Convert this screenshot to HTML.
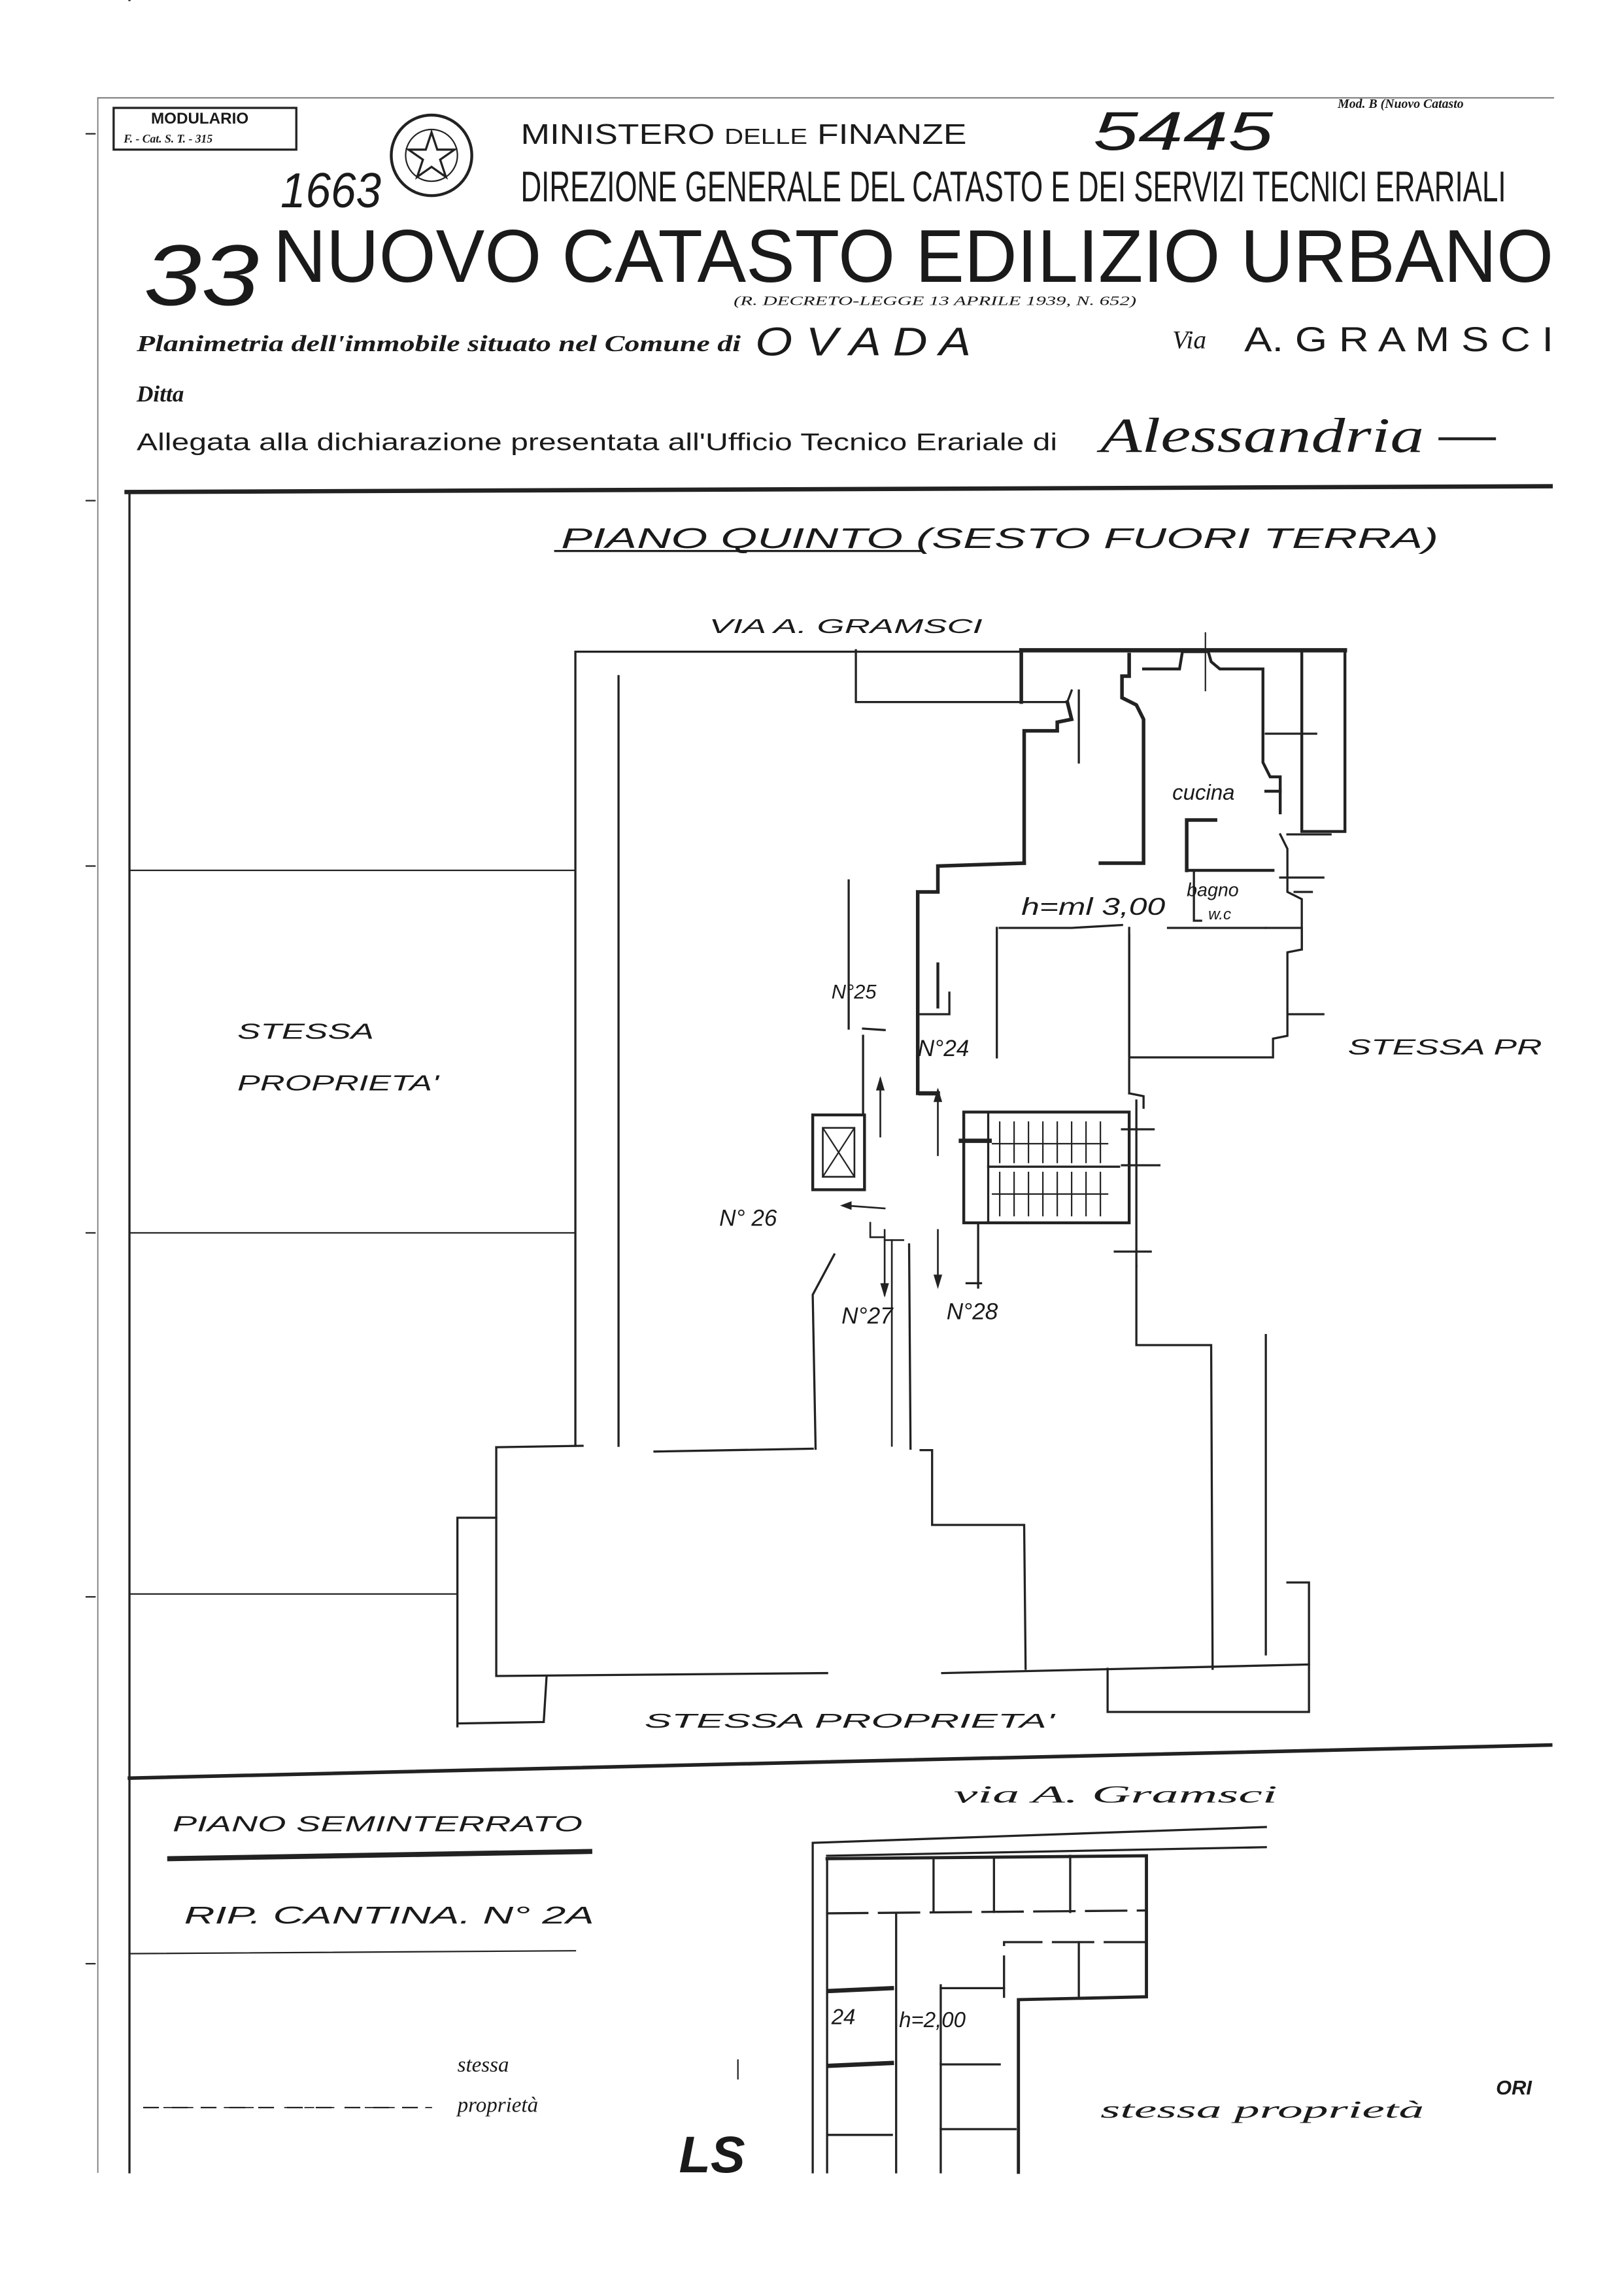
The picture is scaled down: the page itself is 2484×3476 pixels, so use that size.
<!DOCTYPE html>
<html><head><meta charset="utf-8"><style>
html,body{margin:0;padding:0;background:#fff}
svg{display:block}
text{font-family:"Liberation Sans",sans-serif;fill:#1a1a1a}
.s{font-family:"Liberation Serif",serif;font-style:italic}
.h{font-family:"Liberation Sans",sans-serif;font-style:italic}
</style></head><body>
<svg width="2484" height="3476" viewBox="0 0 1129 1580" preserveAspectRatio="none" xmlns="http://www.w3.org/2000/svg">
<rect width="1129" height="1580" fill="#fff"/>
<g stroke="#222" fill="none" stroke-linecap="square">
<!-- frame -->
<line x1="68" y1="68" x2="1080" y2="68" stroke-width="0.8" stroke="#666"/>
<line x1="68" y1="68" x2="68" y2="1510" stroke-width="0.8" stroke="#777"/>
<line x1="60" y1="93" x2="66" y2="93" stroke-width="1"/><line x1="60" y1="348" x2="66" y2="348" stroke-width="1"/>
<line x1="60" y1="602" x2="66" y2="602" stroke-width="1"/><line x1="60" y1="857" x2="66" y2="857" stroke-width="1"/>
<line x1="60" y1="1110" x2="66" y2="1110" stroke-width="1"/><line x1="60" y1="1365" x2="66" y2="1365" stroke-width="1"/>
<rect x="79" y="75" width="127" height="29" stroke-width="1.5"/>
<circle cx="300" cy="108" r="28" stroke-width="2"/>
<circle cx="300" cy="108" r="18" stroke-width="1"/>
<polygon points="300,92 304,104 316,104 306,111 310,123 300,116 290,123 294,111 284,104 296,104" stroke-width="1.5"/>
<line x1="88" y1="342" x2="1078" y2="338" stroke-width="3"/>
<line x1="90" y1="342" x2="90" y2="1510" stroke-width="1.5"/>
<line x1="90" y1="605" x2="400" y2="605" stroke-width="1"/>
<line x1="90" y1="857" x2="400" y2="857" stroke-width="1"/>
<line x1="90" y1="1108" x2="318" y2="1108" stroke-width="1"/>
<line x1="90" y1="1236" x2="1078" y2="1213" stroke-width="2.5"/>
<line x1="90" y1="1358" x2="400" y2="1356" stroke-width="1"/>
<line x1="100" y1="1465" x2="300" y2="1465" stroke-width="0.8" stroke-dasharray="6 8"/>
<!-- underlines -->
<line x1="386" y1="383" x2="640" y2="383" stroke-width="1.5"/>
<line x1="118" y1="1292" x2="410" y2="1287" stroke-width="3.5"/>

<!-- main plan -->
<g stroke-width="1.5">
<polyline points="400,1005 400,453 710,453"/>
<line x1="430" y1="470" x2="430" y2="1005"/>
<line x1="345" y1="1006" x2="405" y2="1005"/>
<line x1="455" y1="1009" x2="565" y2="1007"/>
<polyline points="580,872 565,900 567,1007"/>
<polyline points="345,1006 345,1165 575,1163"/>
<polyline points="318,1200 318,1055 345,1055"/>
<polyline points="318,1198 378,1197 380,1165"/>
<line x1="655" y1="1163" x2="910" y2="1157"/>
<line x1="632" y1="865" x2="633" y2="1007"/>
<polyline points="640,1008 648,1008 648,1060 712,1060 713,1160"/>
<polyline points="790,880 790,935 842,935 843,1160"/>
<polyline points="770,1160 770,1190 910,1190 910,1100 895,1100"/>
<line x1="880" y1="928" x2="880" y2="1150"/>
<line x1="590" y1="612" x2="590" y2="715"/>
<line x1="638" y1="640" x2="638" y2="745"/>
<polyline points="600,715 615,716"/>
<line x1="90" y1="0" x2="90" y2="0"/>
<!-- top-right region -->
<line x1="710" y1="452" x2="935" y2="452" stroke-width="3"/>
<polyline points="595,452 595,488 742,488 745,480"/>
<line x1="710" y1="452" x2="710" y2="488" stroke-width="2.5"/>
<polyline points="742,488 745,500 735,502 735,508 712,508 712,600" stroke-width="2.5"/>
<polyline points="712,600 652,602 652,620 638,620 638,760" stroke-width="2.5"/>
<line x1="640" y1="760" x2="652" y2="760" stroke-width="3"/>
<line x1="652" y1="700" x2="652" y2="670" stroke-width="2"/>
<polyline points="640,705 660,705 660,690" stroke-width="1.5"/>
<line x1="750" y1="480" x2="750" y2="530"/>
<polyline points="785,455 785,470 780,470 780,485 790,490 795,500 795,600 765,600" stroke-width="2.5"/>
<polyline points="795,465 820,465 822,453 840,453 842,460 848,465 878,465 878,530 883,540 890,540 890,565" stroke-width="2"/>
<line x1="838" y1="440" x2="838" y2="480" stroke-width="1"/>
<polyline points="905,453 905,578 935,578 935,453" stroke-width="2"/>
<line x1="880" y1="510" x2="915" y2="510"/>
<polyline points="890,580 895,590 895,620 905,625 905,660 895,662 895,720 885,722 885,735 785,735 785,650"/>
<polyline points="825,605 825,570 845,570" stroke-width="2.5"/>
<line x1="825" y1="605" x2="885" y2="605" stroke-width="2"/>
<line x1="880" y1="550" x2="890" y2="550" stroke-width="2"/>
<line x1="895" y1="580" x2="925" y2="580"/>
<line x1="890" y1="610" x2="920" y2="610"/>
<polyline points="830,605 830,640 835,640"/>
<line x1="812" y1="645" x2="880" y2="645" stroke-width="1.5"/>
<polyline points="880,645 905,645 905,660"/>
<line x1="895" y1="705" x2="920" y2="705"/>
<line x1="900" y1="620" x2="912" y2="620"/>
<polyline points="695,645 745,645 780,643" stroke-width="1.5"/>
<line x1="693" y1="645" x2="693" y2="735" stroke-width="1.5"/>
<line x1="785" y1="645" x2="785" y2="760" stroke-width="1.5"/>
<polyline points="785,760 795,762 795,770"/>
<line x1="780" y1="785" x2="802" y2="785"/>
<line x1="780" y1="810" x2="806" y2="810"/>
<line x1="790" y1="765" x2="790" y2="880"/>
<line x1="775" y1="870" x2="800" y2="870"/>
<!-- stairs -->
<rect x="670" y="773" width="115" height="77" stroke-width="2"/>
<line x1="687" y1="773" x2="687" y2="850"/>
<line x1="687" y1="811" x2="778" y2="811"/>
<g stroke-width="1">
<line x1="695" y1="780" x2="695" y2="808"/><line x1="705" y1="780" x2="705" y2="808"/><line x1="715" y1="780" x2="715" y2="808"/><line x1="725" y1="780" x2="725" y2="808"/><line x1="735" y1="780" x2="735" y2="808"/><line x1="745" y1="780" x2="745" y2="808"/><line x1="755" y1="780" x2="755" y2="808"/><line x1="765" y1="780" x2="765" y2="808"/>
<line x1="695" y1="815" x2="695" y2="845"/><line x1="705" y1="815" x2="705" y2="845"/><line x1="715" y1="815" x2="715" y2="845"/><line x1="725" y1="815" x2="725" y2="845"/><line x1="735" y1="815" x2="735" y2="845"/><line x1="745" y1="815" x2="745" y2="845"/><line x1="755" y1="815" x2="755" y2="845"/><line x1="765" y1="815" x2="765" y2="845"/>
<line x1="690" y1="795" x2="770" y2="795"/><line x1="690" y1="830" x2="770" y2="830"/>
</g>
<line x1="668" y1="793" x2="688" y2="793" stroke-width="3"/>
<line x1="680" y1="850" x2="680" y2="895"/><line x1="672" y1="892" x2="682" y2="892"/>
<!-- lift -->
<rect x="565" y="775" width="36" height="52" stroke-width="2"/>
<rect x="572" y="784" width="22" height="34" stroke-width="1.2"/>
<line x1="572" y1="784" x2="594" y2="818" stroke-width="1"/><line x1="594" y1="784" x2="572" y2="818" stroke-width="1"/>
<line x1="600" y1="720" x2="600" y2="775"/>
<!-- arrows -->
<g stroke-width="1.2">
<line x1="612" y1="750" x2="612" y2="790"/><line x1="652" y1="758" x2="652" y2="803"/>
<line x1="615" y1="855" x2="615" y2="900"/><line x1="652" y1="855" x2="652" y2="893"/>
<line x1="588" y1="838" x2="615" y2="840"/>
<polyline points="605,850 605,860 615,860"/>
<line x1="620" y1="862" x2="620" y2="1005"/>
<polyline points="615,862 628,862"/>
</g>
</g>
<g fill="#222" stroke="none">
<polygon points="612,748 609,758 615,758"/><polygon points="652,756 649,766 655,766"/>
<polygon points="615,902 612,892 618,892"/><polygon points="652,896 649,886 655,886"/>
<polygon points="584,838 592,835 592,841"/>
</g>

<!-- cantina plan -->
<g stroke-width="1.5">
<line x1="565" y1="1281" x2="880" y2="1270"/>
<line x1="565" y1="1282" x2="565" y2="1510"/>
<line x1="575" y1="1290" x2="880" y2="1284"/>
<rect x="575" y="1292" width="223" height="0" />
<polyline points="575,1292 575,1510"/>
<polyline points="575,1292 797,1290 797,1388 708,1390 708,1510" stroke-width="2.2"/>
<line x1="649" y1="1292" x2="649" y2="1329"/><line x1="691" y1="1292" x2="691" y2="1329"/><line x1="744" y1="1290" x2="744" y2="1329"/>
<line x1="575" y1="1330" x2="797" y2="1328" stroke-dasharray="28 8"/>
<line x1="623" y1="1330" x2="623" y2="1510"/><line x1="654" y1="1380" x2="654" y2="1510"/>
<polyline points="698,1388 698,1350 797,1350" stroke-dasharray="28 8"/>
<line x1="750" y1="1350" x2="750" y2="1388"/>
<line x1="654" y1="1382" x2="698" y2="1382"/>
<line x1="576" y1="1384" x2="620" y2="1382" stroke-width="3"/>
<line x1="576" y1="1436" x2="620" y2="1434" stroke-width="3"/>
<line x1="654" y1="1435" x2="695" y2="1435"/>
<line x1="576" y1="1484" x2="620" y2="1484"/><line x1="654" y1="1480" x2="706" y2="1480"/>
<line x1="513" y1="1432" x2="513" y2="1445" stroke-width="1"/>
</g>
<g stroke-width="1" stroke-dasharray="10 10">
<line x1="100" y1="1465" x2="300" y2="1465"/>
</g>
</g>

<!-- header text -->
<text x="105" y="86" font-size="11" font-weight="bold" font-family="Liberation Serif">MODULARIO</text>
<text x="86" y="99" font-size="8" font-weight="bold" class="s">F. - Cat. S. T. - 315</text>
<text x="362" y="100" font-size="20" textLength="310" lengthAdjust="spacingAndGlyphs">MINISTERO <tspan font-size="15">DELLE</tspan> FINANZE</text>
<text x="362" y="140" font-size="30" textLength="685" lengthAdjust="spacingAndGlyphs">DIREZIONE GENERALE DEL CATASTO E DEI SERVIZI TECNICI ERARIALI</text>
<text x="195" y="144" font-size="34" class="h" textLength="70" lengthAdjust="spacingAndGlyphs">1663</text>
<text x="100" y="212" font-size="60" class="h" textLength="80" lengthAdjust="spacingAndGlyphs">33</text>
<text x="190" y="196" font-size="52" textLength="890" lengthAdjust="spacingAndGlyphs">NUOVO CATASTO EDILIZIO URBANO</text>
<text x="510" y="212" font-size="9" class="s" textLength="280" lengthAdjust="spacingAndGlyphs">(R. DECRETO-LEGGE 13 APRILE 1939, N. 652)</text>
<text x="760" y="104" font-size="38" class="h" fill="#444" textLength="125" lengthAdjust="spacingAndGlyphs">5445</text>
<text x="930" y="75" font-size="9" class="s" font-weight="bold">Mod. B (Nuovo Catasto</text>
<text x="95" y="244" font-size="16" class="s" font-weight="bold" textLength="420" lengthAdjust="spacingAndGlyphs">Planimetria dell'immobile situato nel Comune di</text>
<text x="525" y="247" font-size="28" class="h" textLength="150" lengthAdjust="spacingAndGlyphs">O V A D A</text>
<text x="815" y="242" font-size="18" class="s">Via</text>
<text x="865" y="244" font-size="24" textLength="215" lengthAdjust="spacingAndGlyphs">A. G R A M S C I</text>
<text x="95" y="279" font-size="16" class="s" font-weight="bold">Ditta</text>
<text x="95" y="313" font-size="17" font-family="Liberation Serif" textLength="640" lengthAdjust="spacingAndGlyphs">Allegata alla dichiarazione presentata all'Ufficio Tecnico Erariale di</text>
<text x="765" y="314" font-size="34" class="s" textLength="225" lengthAdjust="spacingAndGlyphs">Alessandria</text>
<line x1="1000" y1="305" x2="1040" y2="305" stroke="#222" stroke-width="2"/>

<!-- plan labels -->
<g class="h">
<text x="390" y="381" font-size="20" class="h" textLength="610" lengthAdjust="spacingAndGlyphs">PIANO QUINTO (SESTO FUORI TERRA)</text>
<text x="493" y="440" font-size="14" class="h" textLength="190" lengthAdjust="spacingAndGlyphs">VIA   A. GRAMSCI</text>
<text x="165" y="722" font-size="15" class="h" textLength="95" lengthAdjust="spacingAndGlyphs">STESSA</text>
<text x="165" y="758" font-size="15" class="h" textLength="140" lengthAdjust="spacingAndGlyphs">PROPRIETA'</text>
<text x="937" y="733" font-size="15" class="h" textLength="135" lengthAdjust="spacingAndGlyphs">STESSA PR</text>
<text x="815" y="556" font-size="15" class="h">cucina</text>
<text x="825" y="623" font-size="13" class="h">bagno</text>
<text x="840" y="639" font-size="11" class="h">w.c</text>
<text x="710" y="636" font-size="17" class="h" textLength="100" lengthAdjust="spacingAndGlyphs">h=ml 3,00</text>
<text x="578" y="694" font-size="14" class="h">N°25</text>
<text x="638" y="734" font-size="16" class="h">N°24</text>
<text x="500" y="852" font-size="16" class="h">N° 26</text>
<text x="585" y="920" font-size="16" class="h">N°27</text>
<text x="658" y="917" font-size="16" class="h">N°28</text>
<text x="448" y="1201" font-size="14" class="h" textLength="285" lengthAdjust="spacingAndGlyphs">STESSA PROPRIETA'</text>
<text x="120" y="1273" font-size="15" class="h" textLength="285" lengthAdjust="spacingAndGlyphs">PIANO SEMINTERRATO</text>
<text x="128" y="1337" font-size="17" class="h" textLength="285" lengthAdjust="spacingAndGlyphs">RIP. CANTINA. N° 2A</text>
<text x="663" y="1253" font-size="17" class="s" textLength="225" lengthAdjust="spacingAndGlyphs">via A. Gramsci</text>
<text x="578" y="1407" font-size="15" class="h">24</text>
<text x="625" y="1409" font-size="15" class="h">h=2,00</text>
<text x="318" y="1440" font-size="15" class="s">stessa</text>
<text x="318" y="1468" font-size="15" class="s">proprietà</text>
<text x="765" y="1472" font-size="17" class="s" textLength="225" lengthAdjust="spacingAndGlyphs">stessa proprietà</text>
<text x="1040" y="1456" font-size="14" font-family="Liberation Serif" font-weight="bold">ORI</text>
<text x="472" y="1510" font-size="36" font-weight="bold" font-family="Liberation Sans">LS</text>
</g>
</svg>
</body></html>
